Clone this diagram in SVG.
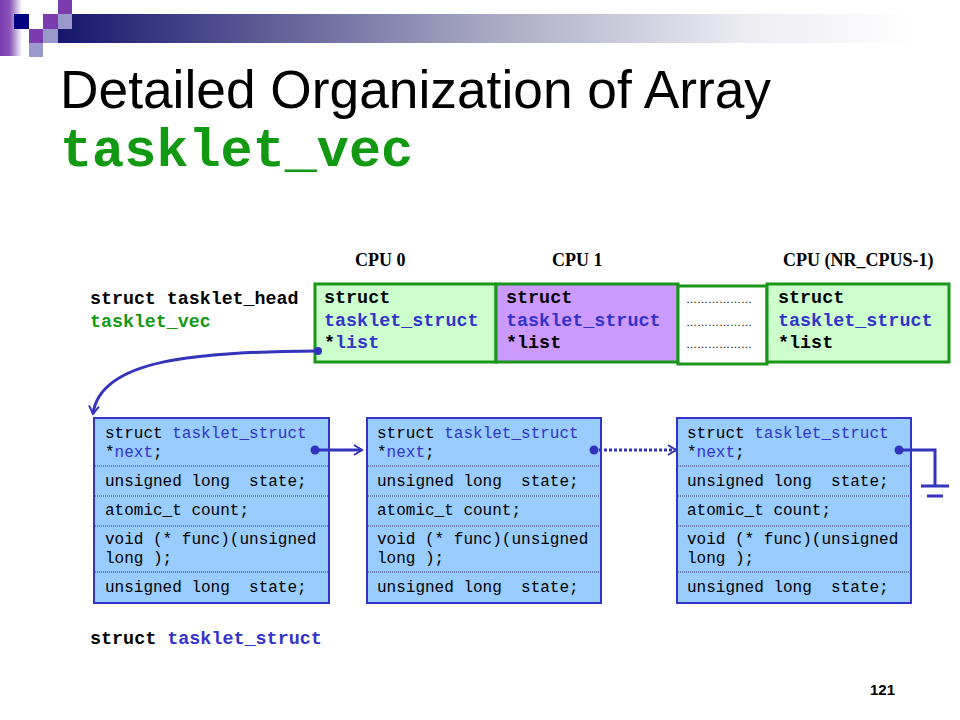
<svg xmlns="http://www.w3.org/2000/svg" width="960" height="720" viewBox="0 0 960 720">
<defs>
<linearGradient id="bar" x1="0" y1="0" x2="1" y2="0">
<stop offset="0" stop-color="#16166e"/>
<stop offset="0.5" stop-color="#a8a8c4"/>
<stop offset="0.8" stop-color="#ececf2"/>
<stop offset="1" stop-color="#ffffff"/>
</linearGradient>
<linearGradient id="strip" x1="0" y1="0" x2="1" y2="0">
<stop offset="0" stop-color="#7a3cae"/>
<stop offset="0.45" stop-color="#8a55b8"/>
<stop offset="1" stop-color="#ffffff"/>
</linearGradient>
<marker id="arr" viewBox="0 0 12 12" refX="10" refY="6" markerWidth="12" markerHeight="12" markerUnits="userSpaceOnUse" orient="auto">
<path d="M2,1 L10,6 L2,11" fill="none" stroke="#3333bb" stroke-width="2"/>
</marker>
<style>
.mono{font-family:"Liberation Mono","Courier New",monospace;}
.b{font-weight:bold;}
.blue{fill:#3333cc;}
.grn{fill:#119911;}
.cpu{font-family:"Liberation Serif","Times New Roman",serif;font-weight:bold;font-size:18px;fill:#000;}
.arrbox{stroke:#1a961a;stroke-width:3;}
.sbox{fill:#99ccff;stroke:#3333cc;stroke-width:2;}
.sep{stroke:#333366;stroke-width:1;stroke-dasharray:1,1;}
.st{font-family:"Liberation Mono","Courier New",monospace;font-size:16px;fill:#000;}
.conn{stroke:#3333bb;stroke-width:3;fill:none;}
.dot{fill:#3333bb;}
</style>
</defs>

<g id="decoration">
<rect x="0" y="0" width="22" height="56" fill="url(#strip)"/>
<rect x="58" y="14" width="860" height="29" fill="url(#bar)"/>
<rect x="14" y="14" width="15" height="15" fill="#000080"/>
<rect x="43" y="14" width="15" height="15" fill="#7a3cae"/>
<rect x="58" y="0" width="14" height="14" fill="#7a3cae"/>
<rect x="58" y="14" width="14" height="15" fill="#9999cc"/>
<rect x="29" y="29" width="14" height="14" fill="#7a3cae"/>
<rect x="43" y="29" width="15" height="14" fill="#9999cc"/>
<rect x="29" y="43" width="14" height="14" fill="#9999cc"/>
</g>

<g id="title">
<text x="60" y="108" font-family="'Liberation Sans',Arial,sans-serif" font-size="53.3" fill="#000">Detailed Organization of Array</text>
<text x="60" y="166" class="mono b grn" font-size="53.5">tasklet_vec</text>
</g>

<g id="cpu-labels">
<text x="355" y="266" class="cpu">CPU 0</text>
<text x="552" y="266" class="cpu">CPU 1</text>
<text x="783" y="266" class="cpu">CPU (NR_CPUS-1)</text>
</g>

<g id="head-label">
<text x="90" y="304" class="mono b" font-size="18.3">struct tasklet_head</text>
<text x="90" y="327" class="mono b grn" font-size="18.3">tasklet_vec</text>
</g>

<g id="cpu0">
<rect x="315" y="284" width="181" height="78" fill="#ccffcc" class="arrbox"/>
<text x="324" y="303" class="mono b" font-size="18.4">struct</text>
<text x="324" y="326" class="mono b blue" font-size="18.4">tasklet_struct</text>
<text x="324" y="348" class="mono b" font-size="18.4">*<tspan class="blue">list</tspan></text>
</g>
<g id="cpu1">
<rect x="496" y="284" width="182" height="78" fill="#cc99ff" class="arrbox"/>
<text x="506" y="303" class="mono b" font-size="18.4">struct</text>
<text x="506" y="326" class="mono b blue" font-size="18.4">tasklet_struct</text>
<text x="506" y="348" class="mono b" font-size="18.4">*list</text>
</g>
<g id="dots">
<rect x="678" y="286" width="89" height="78" fill="#ffffff" class="arrbox"/>
<text x="686" y="303" font-family="'Liberation Sans',Arial,sans-serif" font-size="11" fill="#000">………………</text>
<text x="686" y="326" font-family="'Liberation Sans',Arial,sans-serif" font-size="11" fill="#000">………………</text>
<text x="686" y="348" font-family="'Liberation Sans',Arial,sans-serif" font-size="11" fill="#000">………………</text>
</g>
<g id="cpuN">
<rect x="767" y="284" width="182" height="78" fill="#ccffcc" class="arrbox"/>
<text x="778" y="303" class="mono b" font-size="18.4">struct</text>
<text x="778" y="326" class="mono b blue" font-size="18.4">tasklet_struct</text>
<text x="778" y="348" class="mono b" font-size="18.4">*list</text>
</g>

<g id="taskletA">
<rect x="94" y="418" width="235" height="185" class="sbox"/>
<line x1="95" y1="466" x2="328" y2="466" class="sep"/>
<line x1="95" y1="496" x2="328" y2="496" class="sep"/>
<line x1="95" y1="526" x2="328" y2="526" class="sep"/>
<line x1="95" y1="572" x2="328" y2="572" class="sep"/>
<text x="105" y="438" class="st">struct <tspan class="blue">tasklet_struct</tspan></text>
<text x="105" y="457" class="st">*<tspan class="blue">next</tspan>;</text>
<text x="105" y="486" class="st" xml:space="preserve">unsigned long  state;</text>
<text x="105" y="515" class="st">atomic_t count;</text>
<text x="105" y="544" class="st">void (* func)(unsigned</text>
<text x="105" y="563" class="st">long );</text>
<text x="105" y="592" class="st" xml:space="preserve">unsigned long  state;</text>
</g>

<g id="taskletB">
<rect x="367" y="418" width="234" height="185" class="sbox"/>
<line x1="368" y1="466" x2="600" y2="466" class="sep"/>
<line x1="368" y1="496" x2="600" y2="496" class="sep"/>
<line x1="368" y1="526" x2="600" y2="526" class="sep"/>
<line x1="368" y1="572" x2="600" y2="572" class="sep"/>
<text x="377" y="438" class="st">struct <tspan class="blue">tasklet_struct</tspan></text>
<text x="377" y="457" class="st">*<tspan class="blue">next</tspan>;</text>
<text x="377" y="486" class="st" xml:space="preserve">unsigned long  state;</text>
<text x="377" y="515" class="st">atomic_t count;</text>
<text x="377" y="544" class="st">void (* func)(unsigned</text>
<text x="377" y="563" class="st">long );</text>
<text x="377" y="592" class="st" xml:space="preserve">unsigned long  state;</text>
</g>

<g id="taskletC">
<rect x="677" y="418" width="234" height="185" class="sbox"/>
<line x1="678" y1="466" x2="910" y2="466" class="sep"/>
<line x1="678" y1="496" x2="910" y2="496" class="sep"/>
<line x1="678" y1="526" x2="910" y2="526" class="sep"/>
<line x1="678" y1="572" x2="910" y2="572" class="sep"/>
<text x="687" y="438" class="st">struct <tspan class="blue">tasklet_struct</tspan></text>
<text x="687" y="457" class="st">*<tspan class="blue">next</tspan>;</text>
<text x="687" y="486" class="st" xml:space="preserve">unsigned long  state;</text>
<text x="687" y="515" class="st">atomic_t count;</text>
<text x="687" y="544" class="st">void (* func)(unsigned</text>
<text x="687" y="563" class="st">long );</text>
<text x="687" y="592" class="st" xml:space="preserve">unsigned long  state;</text>
</g>

<g id="connectors">
<path d="M318,351 C200,352 100,358 93,414" class="conn" stroke-width="2" marker-end="url(#arr)"/>
<circle cx="318" cy="351" r="4" class="dot"/>
<line x1="315" y1="450" x2="362" y2="450" class="conn" marker-end="url(#arr)"/>
<circle cx="315" cy="450" r="4.5" class="dot"/>
<line x1="594" y1="450" x2="676" y2="450" class="conn" stroke-dasharray="3,2" marker-end="url(#arr)"/>
<circle cx="594" cy="450" r="4.5" class="dot"/>
<polyline points="899,450 935,450 935,486" class="conn"/>
<circle cx="899" cy="450" r="4.5" class="dot"/>
<line x1="921" y1="486" x2="949" y2="486" class="conn"/>
<line x1="927" y1="496" x2="943" y2="496" class="conn"/>
</g>

<g id="footer">
<text x="90" y="644" class="mono b" font-size="18.4">struct <tspan class="blue">tasklet_struct</tspan></text>
<text x="870" y="695" font-family="'Liberation Sans',Arial,sans-serif" font-weight="bold" font-size="15" fill="#000">121</text>
</g>
</svg>
